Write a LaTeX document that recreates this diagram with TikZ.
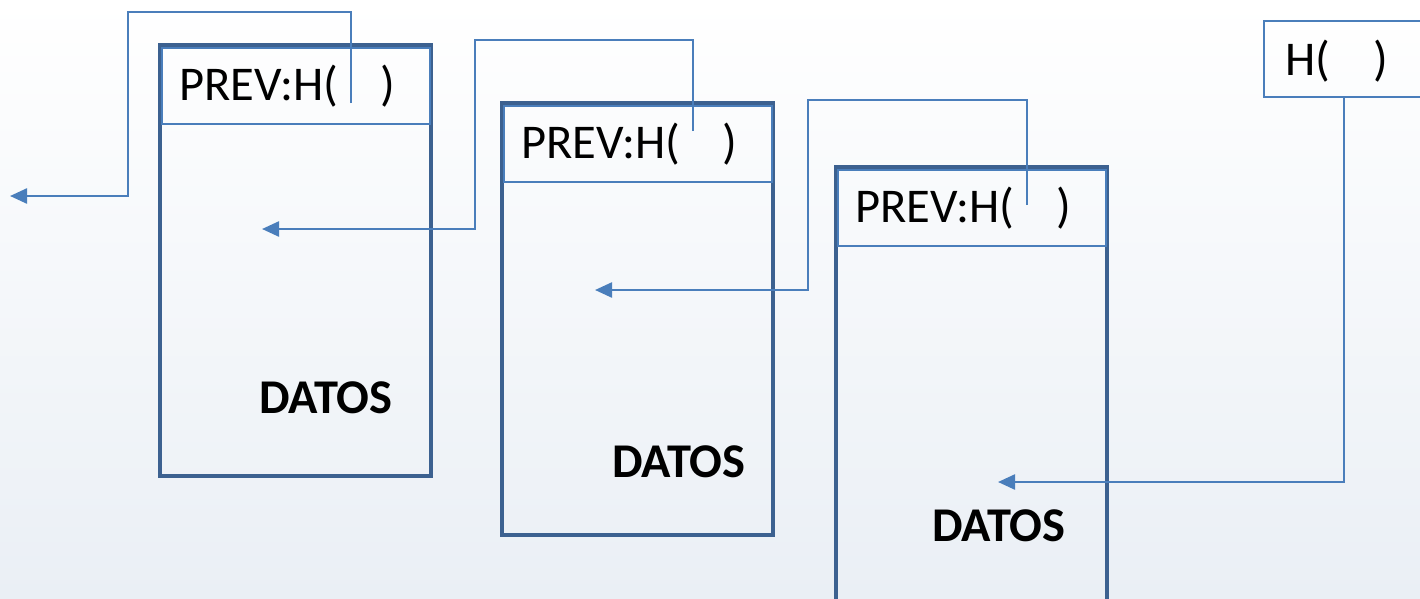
\documentclass[tikz,border=0pt]{standalone}
\usepackage{fontspec}
\setmainfont{Carlito}
\usepackage{tikz}
\usetikzlibrary{calc}
\usetikzlibrary{arrows.meta}
\definecolor{framblue}{HTML}{3C6190}
\definecolor{linkblue}{HTML}{4A7EBB}
\definecolor{bgblue}{HTML}{EAEFF5}
\def\bigtext{\fontsize{48.5}{52}\selectfont}
\tikzset{
blockbox/.style={draw=framblue, line width=4pt, minimum width=271pt, minimum height=#1, inner sep=0pt, outer sep=0pt},
headbox/.style={draw=linkblue, line width=2pt, minimum width=268pt, minimum height=76pt, inner sep=0pt, outer sep=0pt},
headtext/.style={font=\bigtext, inner sep=0pt, anchor=base west},
datatext/.style={font=\bigtext\bfseries, inner sep=0pt, anchor=base west},
link/.style={draw=linkblue, line width=2.4pt, -{Triangle[length=17pt,width=15pt]}},
}

\begin{document}
\begin{tikzpicture}[x=1pt, y=-1pt]
%Background
\fill[top color=white, middle color=white, bottom color=bgblue] (0,0) rectangle (1420,598);
\useasboundingbox (0,0) rectangle (1420,598);

%Place the blocks
\foreach \i/\bx/\by/\bh/\dx/\dy/\py in {1/160/45/431/99/368/58, 2/502/103/432/110/374/28, 3/836/167/442/96/374/38} {
	\node[blockbox=\bh pt, anchor=north west] (b\i) at (\bx,\by) {};
	\node[headbox, anchor=north] (h\i) at ($(b\i.north)+(0,2.5)$) {};
	\node[headtext] (t\i) at ($(b\i.north west)+(19,55)$) {PREV:H(\hspace{43pt})};
	\node[datatext] (d\i) at ($(b\i.north west)+(\dx,\dy)$) {DATOS};
	\coordinate (p\i) at ($(b\i.north west)+(191,\py)$);
}

%Head pointer
\node[headbox, minimum width=170pt, anchor=north west] (hd) at (1264,21) {};
\node[headtext] (th) at (1285,75) {H(\hspace{43pt})};
\coordinate (q) at (1344,98);

%Corners and ends of the links
\coordinate (k1) at (128,12);
\coordinate (k2) at (475,40);
\coordinate (k3) at (808,100);
\coordinate (in0) at (10,196);
\coordinate (in1) at (262,229);
\coordinate (in2) at (595,290);
\coordinate (in3) at (998,482);

\draw[link] (p1) |- (k1) |- (in0);
\draw[link] (p2) |- (k2) |- (in1);
\draw[link] (p3) |- (k3) |- (in2);
\draw[link] (q) |- (in3);

\end{tikzpicture}
\end{document}
